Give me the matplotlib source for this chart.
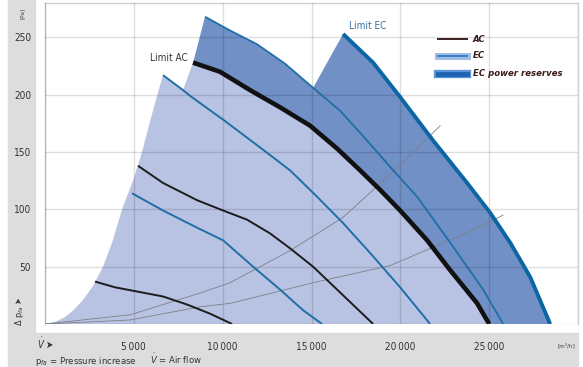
import matplotlib
matplotlib.use('Agg')
import matplotlib.pyplot as plt
from matplotlib.patches import Rectangle, Polygon
from matplotlib.lines import Line2D

plt.rcParams['font.family'] = ['DejaVu Sans']
plt.rcParams['font.stretch'] = 'condensed'

# ---- data (flow m3/h, pressure Pa) ----
stall_v = [0, 600, 1126, 1600, 2140, 2700, 3266, 3800, 4336, 4955, 5462, 5900, 6306, 6644]
stall_p = [0, 2, 6, 12, 21, 33, 50, 72, 100, 125, 150, 176, 199, 217]

ec2_v = [6644, 7770, 8164, 10135, 12275, 13795, 15315, 16779, 18299, 19989, 21678]
ec2_p = [217, 204, 199, 177, 152, 134, 111, 88, 62, 32, 0]

ec1_v = [4899, 6644, 8559, 10022, 11712, 13232, 14527, 15597]
ec1_p = [114, 99, 84, 73, 50, 30, 12, 0]

ac1_v = [2815, 3941, 4955, 6644, 7996, 9291, 10530]
ac1_p = [37, 32, 29, 24, 17, 9, 0]

ac2_v = [5237, 6644, 8559, 10022, 11374, 12669, 13795, 15090, 16442, 18469]
ac2_p = [138, 123, 108, 99, 91, 79, 66, 50, 30, 0]

limit_ac_v = [8334, 9854, 11543, 13232, 14921, 16442, 17737, 18863, 19989, 21509, 22804, 24325, 25001]
limit_ac_p = [228, 220, 204, 189, 173, 153, 134, 117, 99, 73, 47, 18, 0]

ec_top_v = [9009, 10416, 11937, 13514, 15090, 16610, 18131, 19426, 20946, 22804, 24662, 25788]
ec_top_p = [268, 256, 244, 227, 206, 186, 160, 137, 111, 71, 30, 0]

limit_ec_v = [16779, 18468, 19989, 21847, 23761, 25056, 26182, 27308, 28434]
limit_ec_p = [253, 228, 198, 160, 123, 97, 71, 41, 0]

sys_a_v = [0, 4786, 8727, 10417, 13795, 16779, 18468, 20552, 22241]
sys_a_p = [0, 8, 27, 36, 64, 93, 117, 147, 173]

sys_b_v = [0, 4786, 8727, 10417, 15090, 19426, 24099, 25788]
sys_b_p = [0, 3.5, 15, 18, 36, 51, 82, 95]

x_ticks = [0, 5000, 10000, 15000, 20000, 25000, 30000]
x_labels = ['', '5\u2009000', '10\u2009000', '15\u2009000', '20\u2009000', '25\u2009000', '']
y_ticks = [0, 50, 100, 150, 200, 250]
y_labels = ['', '50', '100', '150', '200', '250']

W, H = 583, 367
fig = plt.figure(figsize=(W / 100, H / 100), dpi=100)


def fx(x):
    return x / W


def fy(y):
    return 1 - y / H


# grey frame bands
fig.add_artist(Rectangle((fx(8), fy(333)), 27 / W, 333 / H, transform=fig.transFigure,
                         color='#dddddd', zorder=0))
fig.add_artist(Rectangle((fx(8), 0), 570 / W, 34 / H, transform=fig.transFigure,
                         color='#dddddd', zorder=0))

ax = fig.add_axes([fx(45), fy(324), 533 / W, 321 / H])
ax.set_xlim(0, 30000)
ax.set_ylim(0, 280)

light = '#b8c2e2'
dark = '#7190c6'
blue = '#1f6fa6'

# light region: stall line, EC2 start, up to Limit AC, down Limit AC
lv = stall_v + ec2_v[1:2] + limit_ac_v
lp = stall_p + ec2_p[1:2] + limit_ac_p
ax.add_patch(Polygon(list(zip(lv, lp)), closed=True, facecolor=light, edgecolor='none', zorder=1))

# dark region: power reserves between Limit AC and EC limits
dv = ec_top_v[:5] + limit_ec_v + limit_ac_v[::-1]
dp = ec_top_p[:5] + limit_ec_p + limit_ac_p[::-1]
ax.add_patch(Polygon(list(zip(dv, dp)), closed=True, facecolor=dark, edgecolor='none', zorder=1))

ax.set_xticks(x_ticks)
ax.set_xticklabels(x_labels)
ax.set_yticks(y_ticks)
ax.set_yticklabels(y_labels)
ax.grid(True, color='black', alpha=0.13, linewidth=1.0, zorder=2)
ax.set_axisbelow(False)
ax.tick_params(length=0, labelsize=7.2, colors='#333333')
ax.tick_params(axis='x', pad=13)
ax.tick_params(axis='y', pad=10)
for s in ax.spines.values():
    s.set_color('#d0d0d0')
    s.set_linewidth(1.0)
ax.spines['bottom'].set_visible(False)

# system curves
ax.plot(sys_a_v, sys_a_p, color='#7f8088', lw=0.6, zorder=3)
ax.plot(sys_b_v, sys_b_p, color='#7f8088', lw=0.6, zorder=3)

# fan curves
ax.plot(ac1_v, ac1_p, color='#1c1c1c', lw=1.4, zorder=4, solid_capstyle='butt')
ax.plot(ac2_v, ac2_p, color='#1c1c1c', lw=1.4, zorder=4, solid_capstyle='butt')
ax.plot(ec1_v, ec1_p, color=blue, lw=1.4, zorder=4, solid_capstyle='butt')
ax.plot(ec2_v, ec2_p, color=blue, lw=1.4, zorder=4, solid_capstyle='butt')
ax.plot(ec_top_v, ec_top_p, color=blue, lw=1.3, zorder=4, solid_capstyle='butt')
ax.plot(limit_ac_v, limit_ac_p, color='#111111', lw=3.3, zorder=5, solid_capstyle='butt')
ax.plot(limit_ec_v, limit_ec_p, color='#0b66a3', lw=2.8, zorder=5, solid_capstyle='butt')

ax.text(limit_ac_v[0] - 300, limit_ac_p[0] + 4, 'Limit AC', ha='right', va='center',
        fontsize=7.2, color='#333333', zorder=6)
ax.text(limit_ec_v[0] + 350, limit_ec_p[0] + 7, 'Limit EC', ha='left', va='center',
        fontsize=7.2, color='#3a6e9e', zorder=6)

# legend
fig.add_artist(Line2D([fx(438), fx(467)], [fy(39), fy(39)], transform=fig.transFigure,
                      color='#3b2020', lw=1.4))
fig.add_artist(Line2D([fx(438), fx(467)], [fy(56), fy(56)], transform=fig.transFigure,
                      color='#9dbde6', lw=5))
fig.add_artist(Line2D([fx(438), fx(467)], [fy(56), fy(56)], transform=fig.transFigure,
                      color='#2a74bb', lw=1.2))
fig.add_artist(Line2D([fx(438), fx(467)], [fy(74), fy(74)], transform=fig.transFigure,
                      color='#5c93d3', lw=6))
fig.add_artist(Line2D([fx(438), fx(467)], [fy(74), fy(74)], transform=fig.transFigure,
                      color='#1d64b2', lw=3.5))
for yy, txt in [(39, 'AC'), (56, 'EC'), (74, 'EC power reserves')]:
    fig.text(fx(473), fy(yy), txt, ha='left', va='center', fontsize=6.8, color='#3a1a1a',
             fontweight='bold', fontstyle='italic')

# axis captions
fig.text(fx(22), fy(13), '[Pa]', rotation=90, ha='center', va='center', fontsize=4.5, color='#444444')
fig.text(fx(20), fy(326), '\u0394 p$_{fa}$ \u27a4', rotation=90, ha='center', va='bottom',
         fontsize=6.5, color='#333333')
fig.text(fx(37), fy(348), '$\\dot{V}$ \u27a4', ha='left', va='baseline', fontsize=7, color='#333333')
fig.text(fx(566), fy(345), '[m\u00b3/h]', ha='center', va='center', fontsize=4.5, color='#444444')
fig.text(fx(35), fy(364), 'p$_{fa}$ = Pressure increase', ha='left', va='baseline',
         fontsize=6.8, color='#333333')
fig.text(fx(150), fy(364), '$\\dot{V}$ = Air flow', ha='left', va='baseline',
         fontsize=6.8, color='#333333')

fig.savefig('out.png', dpi=100)
